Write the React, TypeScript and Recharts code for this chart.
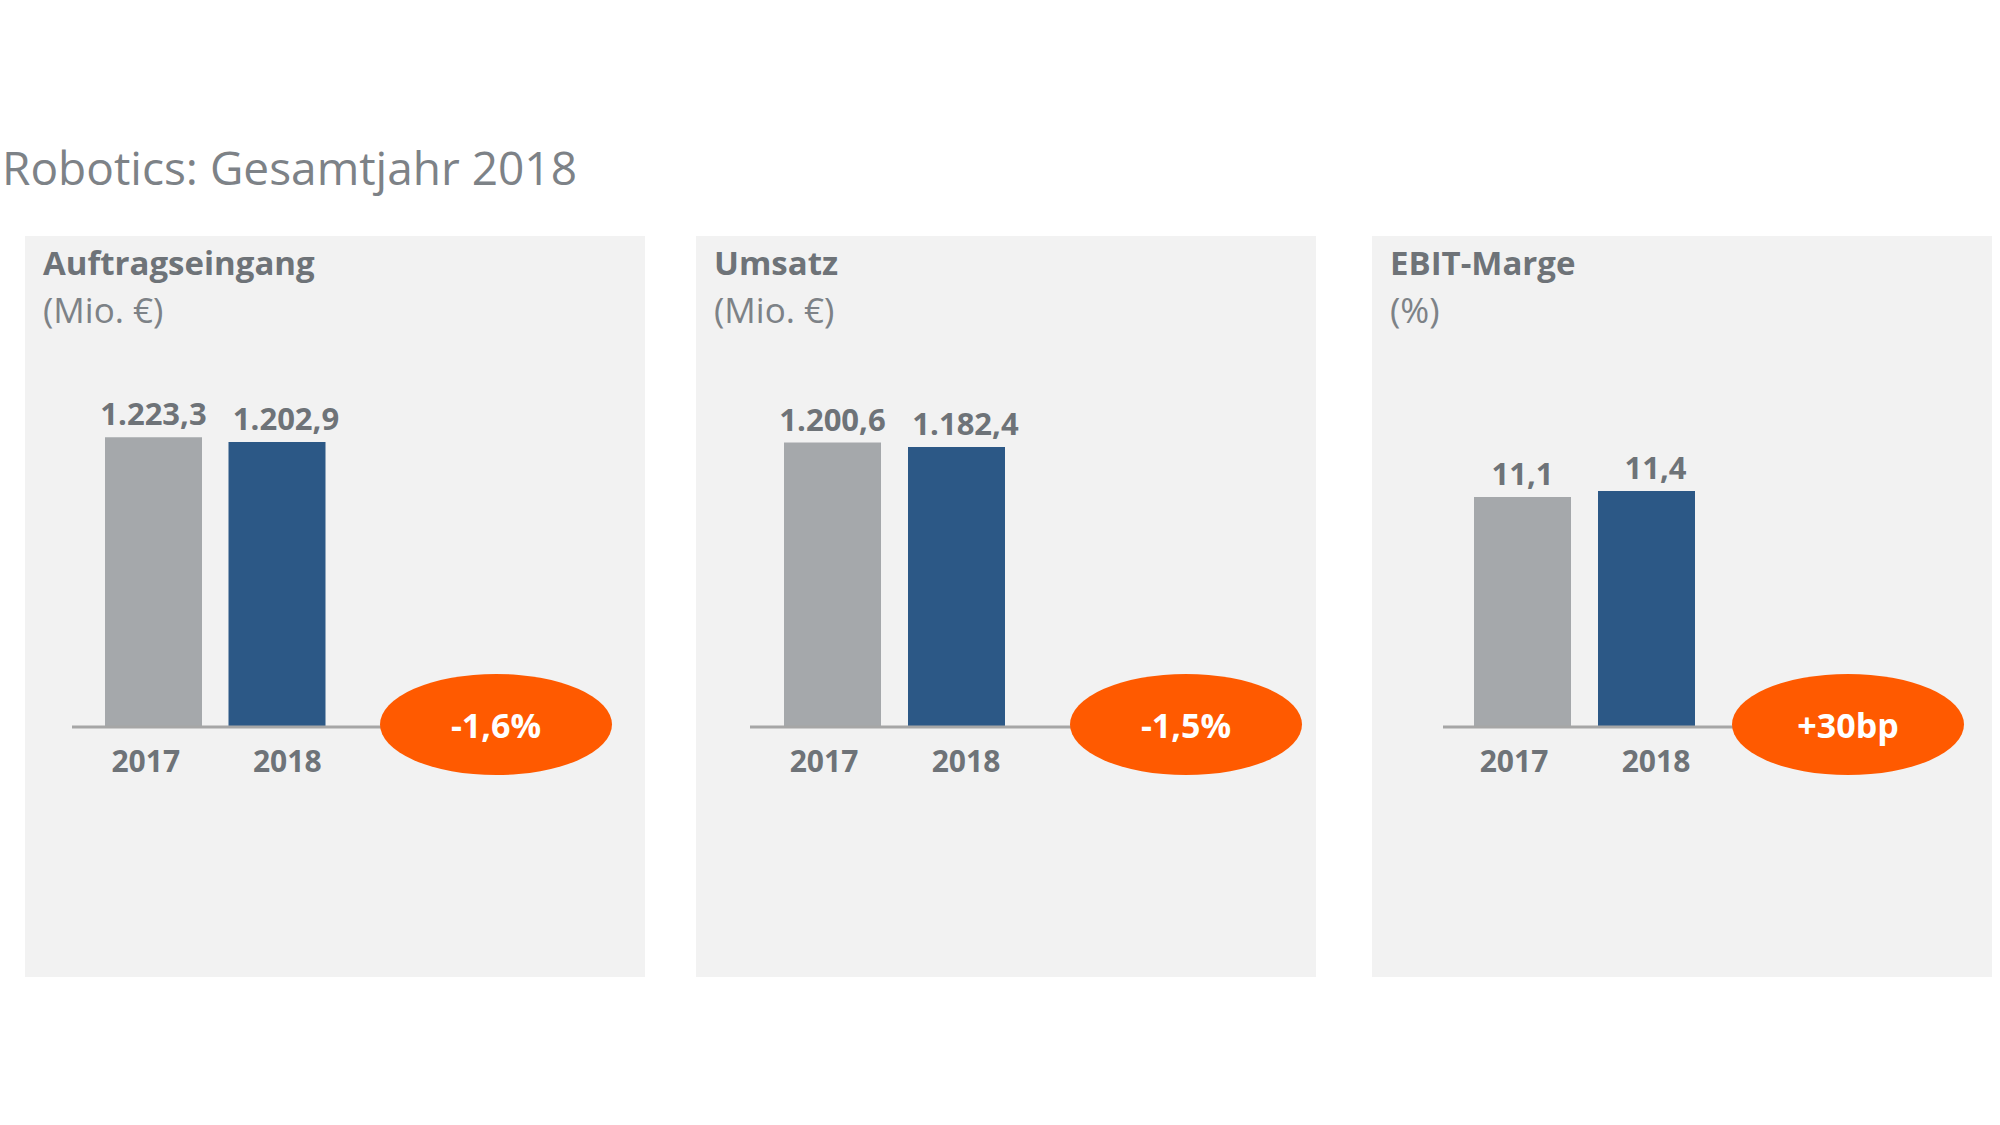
import React from "react";
import { BarChart, Bar, XAxis, YAxis, Cell, LabelList } from "recharts";

const years = ["2017", "2018"];
const orderIntake = [1223.3, 1202.9];
const revenue = [1200.6, 1182.4];
const ebitMargin = [11.1, 11.4];
const panelTitles = ["Auftragseingang", "Umsatz", "EBIT-Marge"];
const panelUnits = ["(Mio. €)", "(Mio. €)", "(%)"];
const changeLabels = ["-1,6%", "-1,5%", "+30bp"];

const GREY = "#a5a8ab";
const BLUE = "#2c5886";
const ORANGE = "#ff5a00";
const TEXT = "#6e7378";
const FONT = "'Open Sans', sans-serif";

// per-panel geometry (panel-relative px)
const layout = [
  { left: 25, axisStart: 47, padLeft: 20, padRight: 157, bubbleX: 471, yMax: 1600 },
  { left: 696, axisStart: 54, padLeft: 20, padRight: 168, bubbleX: 490, yMax: 1600 },
  { left: 1372, axisStart: 71, padLeft: 17, padRight: 140, bubbleX: 476, yMax: 18.3 },
];

const PANEL_TOP = 236;
const PANEL_W = 620;
const PANEL_H = 741;
const CHART_H = 600;
const AXIS_Y = 491;
const TOP_MARGIN = 112;

const fmt = (v: number) => {
  const [i, d] = v.toFixed(1).split(".");
  return i.replace(/\B(?=(\d{3})+(?!\d))/g, ".") + "," + d;
};

const tickShift = [-8, 10];
const labelShift = [0, 9];

const YearTick = ({ x, y, payload, index }: any) => (
  <text
    x={x + tickShift[index]}
    y={y + 45}
    textAnchor="middle"
    fill={TEXT}
    fontFamily={FONT}
    fontWeight={700}
    fontSize={30}
  >
    {payload.value}
  </text>
);

const ValueLabel = ({ x, y, width, value, index }: any) => (
  <text
    x={x + width / 2 + labelShift[index]}
    y={y - 12}
    textAnchor="middle"
    fill={TEXT}
    fontFamily={FONT}
    fontWeight={700}
    fontSize={31}
  >
    {fmt(value)}
  </text>
);

const Panel = ({ idx, values }: { idx: number; values: number[] }) => {
  const l = layout[idx];
  const data = years.map((year, i) => ({ year, value: values[i] }));
  return (
    <div
      style={{
        position: "absolute",
        left: l.left,
        top: PANEL_TOP,
        width: PANEL_W,
        height: PANEL_H,
        background: "#f2f2f2",
        fontFamily: FONT,
      }}
    >
      <div
        style={{
          position: "absolute",
          left: 18,
          top: 9,
          height: 36,
          fontSize: 33,
          lineHeight: "36px",
          fontWeight: 700,
          color: TEXT,
          whiteSpace: "nowrap",
        }}
      >
        {panelTitles[idx]}
      </div>
      <div
        style={{
          position: "absolute",
          left: 18,
          top: 52,
          height: 44,
          fontSize: 35,
          lineHeight: "44px",
          color: "#7d8287",
          whiteSpace: "nowrap",
        }}
      >
        {panelUnits[idx]}
      </div>
      <div style={{ position: "absolute", left: 0, top: 0 }}>
        <BarChart
          width={l.bubbleX}
          height={CHART_H}
          data={data}
          margin={{ top: TOP_MARGIN, right: 0, bottom: 0, left: l.axisStart }}
        >
          <XAxis
            dataKey="year"
            height={CHART_H - AXIS_Y}
            padding={{ left: l.padLeft, right: l.padRight }}
            tickLine={false}
            tickSize={0}
            tickMargin={0}
            axisLine={{ stroke: "#a6a6a6", strokeWidth: 3 }}
            tick={<YearTick />}
            interval={0}
          />
          <YAxis hide domain={[0, l.yMax]} />
          <Bar dataKey="value" barSize={97} isAnimationActive={false}>
            {data.map((_, i) => (
              <Cell key={i} fill={i === 0 ? GREY : BLUE} />
            ))}
            <LabelList dataKey="value" content={<ValueLabel />} />
          </Bar>
        </BarChart>
      </div>
      <div
        style={{
          position: "absolute",
          left: l.bubbleX - 116,
          top: 488 - 50,
          width: 232,
          height: 101,
          borderRadius: "50%",
          background: ORANGE,
          color: "#ffffff",
          fontWeight: 700,
          fontSize: 34,
          display: "flex",
          alignItems: "center",
          justifyContent: "center",
        }}
      >
        {changeLabels[idx]}
      </div>
    </div>
  );
};

export default function App() {
  return (
    <div
      style={{
        position: "absolute",
        left: 0,
        top: 0,
        width: 2000,
        height: 1125,
        background: "#ffffff",
        fontFamily: FONT,
      }}
    >
      <div
        style={{
          position: "absolute",
          left: 2,
          top: 144,
          fontSize: 46,
          lineHeight: "46px",
          color: "#7d8287",
          whiteSpace: "nowrap",
        }}
      >
        Robotics: Gesamtjahr 2018
      </div>
      <Panel idx={0} values={orderIntake} />
      <Panel idx={1} values={revenue} />
      <Panel idx={2} values={ebitMargin} />
    </div>
  );
}
